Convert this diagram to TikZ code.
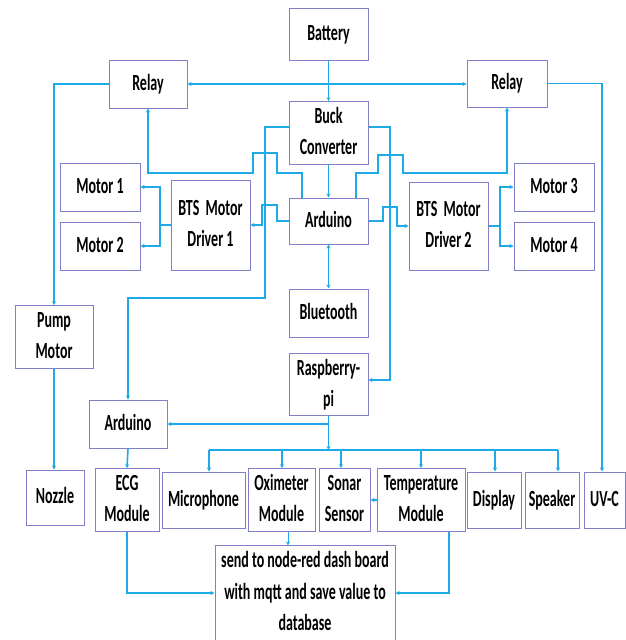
\documentclass[tikz,border=0pt]{standalone}
\usepackage{fontspec}
\setmainfont{Carlito}
\usepackage{graphicx}
\usetikzlibrary{arrows.meta}
\definecolor{wirec}{RGB}{30,170,230}
\definecolor{edgec}{RGB}{128,128,200}
\newcommand{\lbl}[1]{\scalebox{1}[1.65]{\begin{tabular}{@{}c@{}}#1\end{tabular}}}
\newcommand{\bx}[6]{\node[box,minimum width=#4pt,minimum height=#5pt] (#1) at (#2,#3) {\lbl{#6}};}
\begin{document}
\begin{tikzpicture}[x=1pt,y=-1pt,
  box/.style={draw=edgec, line width=1pt, fill=white, inner sep=0pt, font=\fontsize{14}{19}\selectfont\bfseries, align=center},
  conn/.style={draw=wirec, line width=1.6pt, -{Stealth[length=4pt,width=4pt]}},
  thinconn/.style={conn, line width=0.9pt},
  both/.style={{Stealth[length=4pt,width=4pt]}-{Stealth[length=4pt,width=4pt]}}]
\useasboundingbox (0,0) rectangle (626,640);
% boxes
\bx{battery}{328.5}{34}{79}{52}{Battery}
\bx{relayL}{148}{84}{78}{48}{Relay}
\bx{relayR}{507}{83.5}{80}{47}{Relay}
\bx{buck}{328.5}{133}{79}{60}{Buck\\Converter}
\bx{ard}{328.5}{221}{79}{46}{Arduino}
\bx{bt}{328.5}{313}{79}{48}{Bluetooth}
\bx{rpi}{328.5}{384.5}{79}{59}{Raspberry-\\pi}
\bx{m1}{100}{187}{80}{48}{Motor 1}
\bx{m2}{100}{246}{80}{48}{Motor 2}
\bx{bts1}{210.5}{225}{79}{90}{BTS\ \ Motor\\Driver 1}
\bx{bts2}{448.5}{226}{79}{88}{BTS\ \ Motor\\Driver 2}
\bx{m3}{554}{187}{80}{48}{Motor 3}
\bx{m4}{554}{246}{80}{48}{Motor 4}
\bx{pump}{54}{337}{78}{60}{Pump\\Motor}
\bx{ard2}{128}{424}{78}{48}{Arduino}
\bx{nozzle}{55}{497.5}{58}{55}{Nozzle}
\bx{ecg}{127}{500}{64}{56}{ECG\\Module}
\bx{mic}{203.5}{500}{83}{56}{Microphone}
\bx{oxi}{281.5}{500}{67}{56}{Oximeter\\Module}
\bx{sonar}{344.5}{500}{51}{56}{Sonar\\Sensor}
\bx{temp}{421}{500}{88}{56}{Temperature\\Module}
\bx{disp}{494}{500}{54}{56}{Display}
\bx{spk}{552}{500}{54}{56}{Speaker}
\bx{uvc}{604.5}{500}{41}{56}{UV-C}
\bx{send}{305}{593}{180}{90}{send to node-red dash board\\with mqtt and save value to\\database}
% connectors
\draw[thinconn] (battery) -- (buck);
\draw[conn,both] (relayL.east) -- (relayL.east -| relayR.west);
\draw[conn] (relayL.west) -| (pump.north);
\draw[conn] (pump.south) -- (pump.south |- nozzle.north);
\draw[conn] (relayR.east) -| ([xshift=-2.5]uvc.north);
\draw[conn] ([xshift=-26.5]ard.north) -- (302,173) -- (277,173) -- (277,153) -- (253,153) -- (253,173) -| (relayL.south);
\draw[conn] ([xshift=27.5]ard.north) -- (356,173) -- (378,173) -- (378,155) -- (403,155) -- (403,173) -| (relayR.south);
\draw[conn] ([yshift=6]buck.west) -- (265,127) -- (265,298) -| (ard2.north);
\draw[conn] ([yshift=6]buck.east) -- (390,127) -- (390,380) -- ([yshift=4.5]rpi.east);
\draw[conn] (ard.west) -- (277,221) -- (277,205) -- (262,205) -- (262,225) -- (bts1.east);
\draw[conn] (ard.east) -- (383,221) -- (383,207) -- (397,207) -- (397,226) -- (bts2.west);
\coordinate (j1) at (160,225);
\coordinate (j2) at (500,226);
\draw[conn,-] (bts1.west) -- (j1);
\draw[conn] (j1) |- (m1.east);
\draw[conn] (j1) |- (m2.east);
\draw[conn,-] (bts2.east) -- (j2);
\draw[conn] (j2) |- (m3.west);
\draw[conn] (j2) |- (m4.west);
\draw[thinconn] (buck) -- (ard);
\draw[conn,both] (ard) -- (bt);
\coordinate (bus) at (328.5,450);
\draw[thinconn] (rpi.south) -- (bus);
\draw[conn] (328.5,424) -- (ard2.east);
\draw[conn,-] (209,450) -- (558,450);
\foreach \x/\n in {209/mic,282/oxi,341/sonar,421/temp,495/disp,558/spk}
  \draw[conn] (\x,450) -- (\x,450 |- \n.north);
\draw[conn] (ard2.south) -- (ecg.north);
\draw[conn] (ecg.south) |- (send.west);
\draw[thinconn] ([xshift=6.5]oxi.south) -- ([xshift=6.5]oxi.south |- send.north);
\draw[conn] ([xshift=28]temp.south) |- (send.east);
\draw[conn] (temp.west) -- (sonar.east);
\end{tikzpicture}
\end{document}
